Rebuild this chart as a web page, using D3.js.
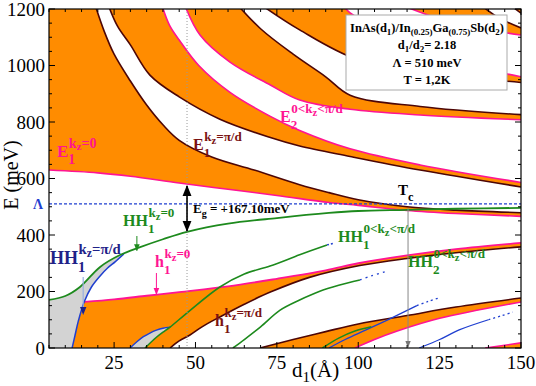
<!DOCTYPE html>
<html><head><meta charset="utf-8">
<script src="https://cdn.jsdelivr.net/npm/d3@7"></script>
<style>
body{margin:0;background:#fff;}
text{font-family:"Liberation Serif","Times New Roman",serif;}
</style>
</head><body>
<svg id="c" width="536" height="386"></svg>
<script>
// ---------------- data (d1 in Å, E in meV) ----------------
const xTicks = [25, 50, 75, 100, 125, 150];
const yTicks = [0, 200, 400, 600, 800, 1000, 1200];
const lambdaE = 510;
const dEg = 47.4;
const dTc = 115.3;

// conduction minibands: lower and upper edges
const e1LoD = [5, 20, 30, 45, 60, 75, 91, 100, 115, 130, 150];
const e1LoE = [630, 620, 608, 584, 562, 540, 515, 505, 487, 476, 466];
const e1HiD = [19, 22, 25, 30, 35, 40, 45, 55, 68, 82, 91, 100, 115, 130, 150];
const e1HiE = [1220, 1120, 1040, 945, 860, 790, 735, 676, 630, 578, 550, 525, 500, 488, 479];

const e2LoD = [23, 26, 30, 36, 45, 57.5, 73, 82, 97.5, 119, 150];
const e2LoE = [1220, 1140, 1073, 966, 889, 810, 745, 715, 678, 630, 570];
const e2HiD = [39.5, 42, 45, 51, 60.6, 73, 82, 97.5, 119, 150];
const e2HiE = [1220, 1143, 1090, 1000, 905, 820, 770, 705, 648, 586];

const e3LoD = [46.5, 51.4, 60.6, 73, 82, 97.5, 119, 150];
const e3LoE = [1220, 1108, 1012, 931, 878, 845, 825, 808];
const e3HiD = [62.5, 70, 80, 90, 97.5, 119, 150];
const e3HiE = [1220, 1130, 1040, 960, 895, 855, 826];

const e4LoD = [69.5, 82, 100, 125, 150];
const e4LoE = [1220, 1126, 1020, 970, 940];
const e4HiD = [95, 97.5, 110, 125, 150];
const e4HiE = [1220, 1186, 1110, 1030, 960];

const e5LoD = [112, 125, 138, 150];
const e5LoE = [1220, 1165, 1130, 1108];
const e5HiD = [137, 143, 150];
const e5HiE = [1220, 1170, 1133];

const e6LoD = [146, 150];
const e6LoE = [1220, 1185];

// valence states
const hh1D = [5, 10, 14.5, 20.7, 26.8, 33, 40, 47.4, 60, 75, 91, 100, 115, 130, 150];
const hh1E = [170, 184, 216, 287, 329, 357, 385, 411, 440, 460, 478, 485, 489, 493, 496];
const hh1PiD = [12.1, 13, 14, 15.8, 18, 20.7, 23, 25.3, 28];
const hh1PiE = [0, 45, 95, 163, 215, 255, 283, 305, 333];

const h1D = [15.8, 25, 35, 45, 60, 75, 90, 100, 115, 130, 150];
const h1E = [163, 172, 185, 198, 218, 245, 275, 300, 328, 350, 372];
const h1PiD = [42.2, 45, 48.3, 52, 57.5, 65, 73, 85, 100.5, 115, 130, 150];
const h1PiE = [0, 25, 46, 75, 110, 155, 198, 250, 292, 317, 337, 358];

const b2D = [29.9, 32, 34, 36, 38, 40, 42.2];
const b2E = [0, 22, 40, 53, 63, 70, 74];
const g2D = [34.5, 38, 40.5, 42.2, 48, 57.5, 65, 72.9, 82, 90.4];
const g2E = [0, 38, 60, 74, 130, 216, 262, 290, 330, 365];
const g2DotD = [90.4, 92.5];
const g2DotE = [365, 371];

const g3D = [61.5, 65, 70, 76, 82, 88, 94, 100.5];
const g3E = [0, 30, 75, 134, 170, 200, 222, 241];
const g3DotD = [100.5, 104, 108.8];
const g3DotE = [241, 255, 272];

const h2PiD = [69.8, 80, 90, 100, 115, 130, 150];
const h2PiE = [0, 30, 58, 85, 115, 145, 177];
const h2D = [99, 105, 112, 125, 150];
const h2E = [0, 30, 60, 105, 163];

const g4D = [89, 94, 99, 104];
const g4E = [0, 35, 60, 75];
const b4D = [91, 96, 102.4, 110, 118];
const b4E = [0, 30, 64, 105, 150];
const b4DotD = [118, 121.5, 125];
const b4DotE = [150, 165, 178];
const b5D = [118.7, 125, 131, 140];
const b5E = [0, 30, 64, 100];
const b5DotD = [140, 144, 147.5];
const b5DotE = [100, 114, 127];
const h3D = [139, 150];
const h3E = [0, 18];

// ---------------- drawing ----------------
const L = 49, R = 521, T = 9, B = 348;
const svg = d3.select('#c');
const x = d3.scaleLinear().domain([5, 150]).range([L, R]);
const y = d3.scaleLinear().domain([0, 1200]).range([B, T]);

const ORANGE = '#ff8c00', MAG = '#ff1493', BROWN = '#4d0606', GREEN = '#1d8a1d',
      BLUE = '#1f3fd0', GRAY = '#d3d3d3', MAROON = '#7a1212', NAVY = '#1f2288';

const defs = svg.append('defs');
defs.append('clipPath').attr('id', 'clip')
  .append('rect').attr('x', L).attr('y', T).attr('width', R - L).attr('height', B - T);
function marker(id, color) {
  defs.append('marker').attr('id', id).attr('viewBox', '0 0 10 10').attr('refX', 9).attr('refY', 5)
    .attr('markerWidth', 7).attr('markerHeight', 7).attr('orient', 'auto-start-reverse')
    .append('path').attr('d', 'M0,1 L10,5 L0,9 Z').attr('fill', color);
}
marker('arK', '#000'); marker('arG', GREEN); marker('arM', MAG); marker('arN', NAVY); marker('arGr', '#777');

const plot = svg.append('g').attr('clip-path', 'url(#clip)');
const lineGen = d3.line().curve(d3.curveCatmullRom.alpha(0.5));
const pts = (D, E) => D.map((d, i) => [x(d), y(E[i])]);
function poly(segs) {
  let s = '';
  segs.forEach((p, i) => {
    let str = p.length === 1 ? 'M' + p[0][0] + ',' + p[0][1] : lineGen(p);
    if (i > 0) str = 'L' + str.slice(1);
    s += str;
  });
  return s + 'Z';
}
function fill(segs, color) { plot.append('path').attr('d', poly(segs)).attr('fill', color).attr('stroke', 'none'); }
function stroke(D, E, color, w, dash) {
  const p = plot.append('path').attr('d', lineGen(pts(D, E))).attr('fill', 'none')
    .attr('stroke', color).attr('stroke-width', w);
  if (dash) p.attr('stroke-dasharray', dash);
}

// orange minibands
fill([pts(e1LoD, e1LoE), pts(e1HiD, e1HiE).reverse(), [[x(5), y(1220)]]], ORANGE);
fill([pts(e2LoD, e2LoE), pts(e2HiD, e2HiE).reverse()], ORANGE);
fill([pts(e3LoD, e3LoE), pts(e3HiD, e3HiE).reverse()], ORANGE);
fill([pts(e4LoD, e4LoE), pts(e4HiD, e4HiE).reverse()], ORANGE);
fill([pts(e5LoD, e5LoE), pts(e5HiD, e5HiE).reverse()], ORANGE);
fill([pts(e6LoD, e6LoE), [[x(150), y(1220)]]], ORANGE);

// h bands
fill([pts(hh1PiD.slice(0, 4), hh1PiE.slice(0, 4)), pts(h1D, h1E), pts(h1PiD, h1PiE).reverse()], ORANGE);
fill([pts(h2PiD, h2PiE), pts(h2D, h2E).reverse()], ORANGE);
fill([pts(h3D, h3E), [[x(150), y(0)]]], ORANGE);

// gray regions
const gPart = hh1D.filter(d => d <= 27).map((d, i) => [x(d), y(hh1E[i])]);
fill([[[x(5), y(0)]], gPart, pts(hh1PiD, hh1PiE).reverse()], GRAY);
fill([pts(b2D, b2E), pts(g2D.slice(0, 4), g2E.slice(0, 4)).reverse()], GRAY);

// band edges
stroke(e1LoD, e1LoE, MAG, 1.6); stroke(e1HiD, e1HiE, BROWN, 1.6);
stroke(e2LoD, e2LoE, BROWN, 1.6); stroke(e2HiD, e2HiE, MAG, 1.6);
stroke(e3LoD, e3LoE, MAG, 1.6); stroke(e3HiD, e3HiE, BROWN, 1.6);
stroke(e4LoD, e4LoE, BROWN, 1.6); stroke(e4HiD, e4HiE, MAG, 1.6);
stroke(e5LoD, e5LoE, MAG, 1.6); stroke(e5HiD, e5HiE, BROWN, 1.6);
stroke(e6LoD, e6LoE, BROWN, 1.6);
stroke(h1D, h1E, MAG, 1.8); stroke(h1PiD, h1PiE, BROWN, 1.6);
stroke(h2PiD, h2PiE, BROWN, 1.6); stroke(h2D, h2E, MAG, 1.6);
stroke(h3D, h3E, MAG, 1.6);

// hole lines
stroke(hh1PiD, hh1PiE, BLUE, 1.5);
stroke(b2D, b2E, BLUE, 1.4);
stroke(b4D, b4E, BLUE, 1.3); stroke(b4DotD, b4DotE, BLUE, 1.3, '2,3');
stroke(b5D, b5E, BLUE, 1.3); stroke(b5DotD, b5DotE, BLUE, 1.3, '2,3');
stroke(g2DotD, g2DotE, BLUE, 1.5, '2,2');
stroke(g3DotD, g3DotE, BLUE, 1.3, '2,4');
stroke(hh1D, hh1E, GREEN, 1.8);
stroke(g2D, g2E, GREEN, 1.6);
stroke(g3D, g3E, GREEN, 1.6);
stroke(g4D, g4E, GREEN, 1.5);

// Λ dashed line
svg.append('line').attr('x1', L).attr('x2', R).attr('y1', y(lambdaE)).attr('y2', y(lambdaE))
  .attr('stroke', BLUE).attr('stroke-width', 1.3).attr('stroke-dasharray', '3,2');
// dotted vertical at Eg
svg.append('line').attr('x1', x(dEg)).attr('x2', x(dEg)).attr('y1', T).attr('y2', B)
  .attr('stroke', '#999').attr('stroke-width', 1).attr('stroke-dasharray', '1,2');
// Eg double arrow
const e1AtEg = 577, hh1AtEg = 411;
svg.append('line').attr('x1', x(dEg)).attr('x2', x(dEg)).attr('y1', y(e1AtEg) + 1).attr('y2', y(hh1AtEg) - 1)
  .attr('stroke', '#000').attr('stroke-width', 1.6)
  .attr('marker-start', 'url(#arK)').attr('marker-end', 'url(#arK)');
// Tc line
svg.append('line').attr('x1', x(dTc)).attr('x2', x(dTc)).attr('y1', y(495)).attr('y2', B - 1)
  .attr('stroke', '#888').attr('stroke-width', 1).attr('marker-end', 'url(#arGr)');

// small pointer arrows
function arrow(px, y1, y2, color, mk, w) {
  svg.append('line').attr('x1', px).attr('x2', px).attr('y1', y1).attr('y2', y2)
    .attr('stroke', color).attr('stroke-width', w || 1).attr('marker-end', 'url(#' + mk + ')');
}
arrow(x(15.5), 277, y(120), '#9ab0e0', 'arN', 1.2);
arrow(x(32), 236, y(345), GREEN, 'arG', 1);
arrow(x(38), 273, y(190), MAG, 'arM', 1);

// ---------------- axes frame & ticks ----------------
const ax = svg.append('g');
ax.append('rect').attr('x', L).attr('y', T).attr('width', R - L).attr('height', B - T)
  .attr('fill', 'none').attr('stroke', '#000').attr('stroke-width', 1.2);
d3.range(0, 1201, 50).forEach(v => {
  const len = v % 200 === 0 ? 6 : 3;
  ax.append('line').attr('x1', L).attr('x2', L + len).attr('y1', y(v)).attr('y2', y(v)).attr('stroke', '#000');
  ax.append('line').attr('x1', R).attr('x2', R - len).attr('y1', y(v)).attr('y2', y(v)).attr('stroke', '#000');
});
d3.range(5, 151, 5).forEach(v => {
  const len = v % 25 === 0 ? 6 : 3;
  ax.append('line').attr('x1', x(v)).attr('x2', x(v)).attr('y1', B).attr('y2', B - len).attr('stroke', '#000');
  ax.append('line').attr('x1', x(v)).attr('x2', x(v)).attr('y1', T).attr('y2', T + len).attr('stroke', '#000');
});
yTicks.forEach(v => ax.append('text').attr('x', L - 4).attr('y', y(v) + 6.5).attr('text-anchor', 'end')
  .attr('font-size', 19).text(v));
xTicks.forEach(v => ax.append('text').attr('x', x(v)).attr('y', 369).attr('text-anchor', 'middle')
  .attr('font-size', 19).text(v));

// axis titles
ax.append('text').attr('transform', 'translate(18,175) rotate(-90)').attr('text-anchor', 'middle')
  .attr('font-size', 20).text('E (meV)');
const xt = ax.append('text').attr('x', 292).attr('y', 377).attr('font-size', 21);
xt.append('tspan').text('d');
xt.append('tspan').attr('dy', 5).attr('font-size', 15).text('1');
xt.append('tspan').attr('dy', -5).text('(Å)');
ax.append('text').attr('x', 38).attr('y', y(lambdaE) + 5).attr('text-anchor', 'middle')
  .attr('font-size', 14).attr('font-weight', 'bold').attr('fill', BLUE).text('Λ');

// ---------------- labels (one text element each, stacked sub/superscript) ----------------
function lab(px, py, main, sub, sup, color, fs) {
  const t = svg.append('text').attr('x', px).attr('y', py).attr('fill', color)
    .attr('font-weight', 'bold').attr('font-size', fs);
  const m = t.append('tspan').text(main);
  const w = m.node().getComputedTextLength();
  const subDy = fs * 0.42;
  t.append('tspan').attr('dy', subDy).attr('font-size', fs * 0.82).text(sub);
  if (sup) {
    let cur = subDy;
    sup.forEach(([txt, low], i) => {
      const ts = t.append('tspan').text(txt);
      let target = -fs * 0.55;
      if (low === 1) { target = -fs * 0.4; ts.attr('font-size', fs * 0.66); }
      else ts.attr('font-size', fs * 0.82);
      if (i === 0) ts.attr('x', px + w + 0.5);
      ts.attr('dy', target - cur);
      cur = target;
    });
  }
}
const supK0 = [['k', 0], ['z', 1], ['=0', 0]];
const supKpi = [['k', 0], ['z', 1], ['=π/d', 0]];
const supKin = [['0<k', 0], ['z', 1], ['<π/d', 0]];
lab(57, 157, 'E', '1', supK0, MAG, 17);
lab(193, 150, 'E', '1', supKpi, MAROON, 16);
lab(280, 122, 'E', '2', supKin, MAG, 16);
lab(123, 226, 'HH', '1', supK0, GREEN, 16);
lab(155, 267, 'h', '1', supK0, MAG, 16);
lab(50, 264, 'HH', '1', supKpi, NAVY, 18);
lab(338, 242, 'HH', '1', supKin, GREEN, 16);
lab(408, 267, 'HH', '2', supKin, GREEN, 16);
lab(215, 326, 'h', '1', supKpi, MAROON, 16);
lab(398, 195, 'T', 'c', null, '#000', 15);
// Eg text
const eg = svg.append('text').attr('x', 193).attr('y', 213).attr('font-size', 13).attr('font-weight', 'bold');
eg.append('tspan').text('E');
eg.append('tspan').attr('dy', 4).attr('font-size', 10).text('g');
eg.append('tspan').attr('dy', -4).text(' = +167.10meV');

// ---------------- legend box ----------------
const lg = svg.append('g');
lg.append('rect').attr('x', 346).attr('y', 15).attr('width', 161).attr('height', 75)
  .attr('fill', '#fff').attr('stroke', '#aaa').attr('stroke-width', 1);
const lt = lg.append('text').attr('x', 427).attr('y', 32).attr('text-anchor', 'middle')
  .attr('font-size', 12.5).attr('font-weight', 'bold');
lt.append('tspan').text('InAs(d');
lt.append('tspan').attr('dy', 3).attr('font-size', 9).text('1');
lt.append('tspan').attr('dy', -3).text(')/In');
lt.append('tspan').attr('dy', 3).attr('font-size', 9).text('(0.25)');
lt.append('tspan').attr('dy', -3).text('Ga');
lt.append('tspan').attr('dy', 3).attr('font-size', 9).text('(0.75)');
lt.append('tspan').attr('dy', -3).text('Sb(d');
lt.append('tspan').attr('dy', 3).attr('font-size', 9).text('2');
lt.append('tspan').attr('dy', -3).text(')');
const l2 = lg.append('text').attr('x', 427).attr('y', 49).attr('text-anchor', 'middle')
  .attr('font-size', 12.5).attr('font-weight', 'bold');
l2.append('tspan').text('d');
l2.append('tspan').attr('dy', 3).attr('font-size', 9).text('1');
l2.append('tspan').attr('dy', -3).text('/d');
l2.append('tspan').attr('dy', 3).attr('font-size', 9).text('2');
l2.append('tspan').attr('dy', -3).text('= 2.18');
lg.append('text').attr('x', 427).attr('y', 67).attr('text-anchor', 'middle')
  .attr('font-size', 12.5).attr('font-weight', 'bold').text('Λ = 510 meV');
lg.append('text').attr('x', 427).attr('y', 84).attr('text-anchor', 'middle')
  .attr('font-size', 12.5).attr('font-weight', 'bold').text('T = 1,2K');
</script>
</body></html>
